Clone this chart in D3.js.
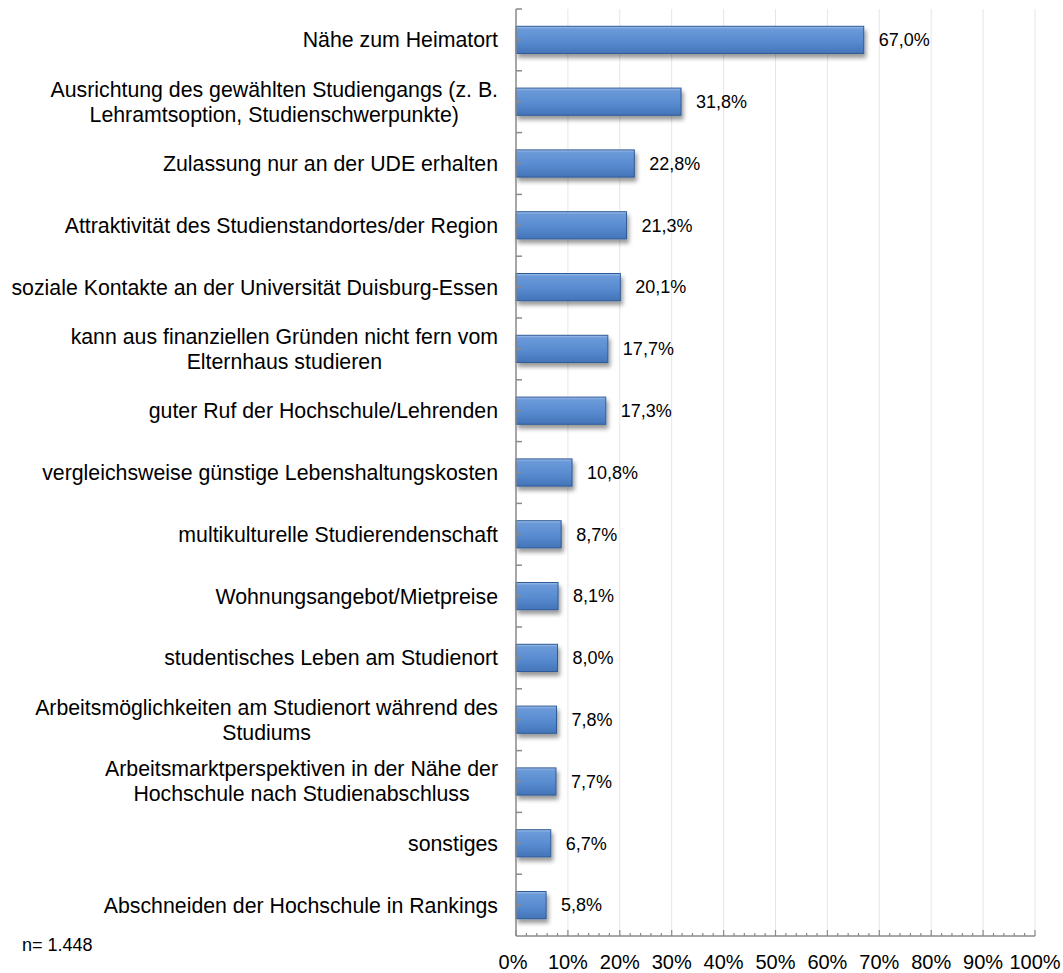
<!DOCTYPE html>
<html>
<head>
<meta charset="utf-8">
<script src="https://cdn.jsdelivr.net/npm/d3@7"></script>
<style>
  body { margin: 0; background: #fff; }
  svg text { font-family: "Liberation Sans", Arial, sans-serif; fill: #000; }
</style>
</head>
<body>
<div id="chart"></div>
<script>
/* DATA */
const categories = [
  ["Nähe zum Heimatort"],
  ["Ausrichtung des gewählten Studiengangs (z. B.", "Lehramtsoption, Studienschwerpunkte)"],
  ["Zulassung nur an der UDE erhalten"],
  ["Attraktivität des Studienstandortes/der Region"],
  ["soziale Kontakte an der Universität Duisburg-Essen"],
  ["kann aus finanziellen Gründen nicht fern vom", "Elternhaus studieren"],
  ["guter Ruf der Hochschule/Lehrenden"],
  ["vergleichsweise günstige Lebenshaltungskosten"],
  ["multikulturelle Studierendenschaft"],
  ["Wohnungsangebot/Mietpreise"],
  ["studentisches Leben am Studienort"],
  ["Arbeitsmöglichkeiten am Studienort während des", "Studiums"],
  ["Arbeitsmarktperspektiven in der Nähe der", "Hochschule nach Studienabschluss"],
  ["sonstiges"],
  ["Abschneiden der Hochschule in Rankings"]
];
const values = [67.0, 31.8, 22.8, 21.3, 20.1, 17.7, 17.3, 10.8, 8.7, 8.1, 8.0, 7.8, 7.7, 6.7, 5.8];
const xTicks = [0, 10, 20, 30, 40, 50, 60, 70, 80, 90, 100];
const note = "n= 1.448";

/* LAYOUT */
const width = 1063, height = 973;
const margin = { top: 9, left: 516, right: 28, bottom: 37 };
const fmt = v => v.toFixed(1).replace(".", ",") + "%";

const svg = d3.select("#chart").append("svg")
  .attr("width", width)
  .attr("height", height);

const defs = svg.append("defs");
const grad = defs.append("linearGradient")
  .attr("id", "barGrad")
  .attr("x1", 0).attr("y1", 0).attr("x2", 0).attr("y2", 1);
grad.append("stop").attr("offset", "0%").attr("stop-color", "#a3c1ea");
grad.append("stop").attr("offset", "10%").attr("stop-color", "#6b9ad9");
grad.append("stop").attr("offset", "55%").attr("stop-color", "#588bd0");
grad.append("stop").attr("offset", "100%").attr("stop-color", "#4474b8");

const shadow = defs.append("filter")
  .attr("id", "shadow")
  .attr("x", "-10%").attr("y", "-30%")
  .attr("width", "130%").attr("height", "180%");
shadow.append("feGaussianBlur").attr("in", "SourceAlpha").attr("stdDeviation", 2.2);
shadow.append("feOffset").attr("dx", 2).attr("dy", 4).attr("result", "off");
shadow.append("feComponentTransfer")
  .append("feFuncA").attr("type", "linear").attr("slope", 0.4);
const merge = shadow.append("feMerge");
merge.append("feMergeNode");
merge.append("feMergeNode").attr("in", "SourceGraphic");

// SCALES
const xScale = d3.scaleLinear()
  .domain([0, 100])
  .range([margin.left, width - margin.right]);

const yScale = d3.scaleBand()
  .domain(d3.range(categories.length))
  .range([margin.top, height - margin.bottom])
  .paddingInner(0.56)
  .paddingOuter(0.28);

const axisY = height - margin.bottom;

// GRIDLINES
svg.append("g")
  .selectAll("line")
  .data(xTicks.filter(d => d > 0))
  .join("line")
  .attr("x1", d => xScale(d)).attr("x2", d => xScale(d))
  .attr("y1", margin.top).attr("y2", axisY)
  .attr("stroke", "#e6e6e6")
  .attr("stroke-width", 1);

// BARS
svg.append("g")
  .selectAll("rect")
  .data(values)
  .join("rect")
  .attr("x", xScale(0))
  .attr("y", (_, i) => yScale(i))
  .attr("width", d => xScale(d) - xScale(0))
  .attr("height", yScale.bandwidth())
  .attr("fill", "url(#barGrad)")
  .attr("stroke", "#2f5b98")
  .attr("stroke-width", 1)
  .attr("filter", "url(#shadow)");

// VALUE LABELS
svg.append("g")
  .selectAll("text")
  .data(values)
  .join("text")
  .attr("x", d => xScale(d) + 15)
  .attr("y", (_, i) => yScale(i) + yScale.bandwidth() / 2)
  .attr("dy", "0.35em")
  .style("font-size", "18px")
  .text(d => fmt(d));

// Y AXIS line and ticks (boundaries + centres, pointing right)
const step = yScale.step();
const y0 = yScale(0) - yScale.paddingInner() * step / 2;
const yTickPos = d3.range(categories.length * 2).map(k => y0 + k * step / 2);
const yAx = svg.append("g");
yAx.append("line")
  .attr("x1", xScale(0)).attr("x2", xScale(0))
  .attr("y1", margin.top).attr("y2", axisY)
  .attr("stroke", "#8a8a8a").attr("stroke-width", 1.5);
yAx.selectAll("line.tick")
  .data(yTickPos)
  .join("line")
  .attr("class", "tick")
  .attr("x1", xScale(0)).attr("x2", xScale(0) + 6)
  .attr("y1", d => d).attr("y2", d => d)
  .attr("stroke", "#8a8a8a").attr("stroke-width", 1.5);

// X AXIS
const xAx = svg.append("g");
xAx.append("line")
  .attr("x1", xScale(0)).attr("x2", xScale(100))
  .attr("y1", axisY).attr("y2", axisY)
  .attr("stroke", "#8a8a8a").attr("stroke-width", 1.5);
xAx.selectAll("line.tick")
  .data(d3.range(0, 101, 2))
  .join("line")
  .attr("class", "tick")
  .attr("x1", d => xScale(d)).attr("x2", d => xScale(d))
  .attr("y1", axisY).attr("y2", d => axisY - (d % 10 === 0 ? 6 : 3))
  .attr("stroke", "#8a8a8a").attr("stroke-width", 1.2);
xAx.selectAll("text")
  .data(xTicks)
  .join("text")
  .attr("x", d => xScale(d) - (d === 0 ? 3 : 0))
  .attr("y", axisY + 33)
  .attr("text-anchor", "middle")
  .style("font-size", "20px")
  .text(d => d + "%");

// CATEGORY LABELS (multi-line centred within block, block right aligned)
const labelRight = 498;
const lineH = 25;
const labels = svg.append("g");
categories.forEach((lines, i) => {
  const cy = yScale(i) + yScale.bandwidth() / 2;
  const g = labels.append("g");
  const texts = g.selectAll("text")
    .data(lines)
    .join("text")
    .attr("y", (_, j) => cy + (j - (lines.length - 1) / 2) * lineH)
    .attr("dy", "0.35em")
    .style("font-size", "21.3px")
    .text(d => d);
  const maxW = d3.max(texts.nodes(), n => n.getComputedTextLength());
  texts.attr("x", labelRight - maxW / 2).attr("text-anchor", "middle");
});

// NOTE
svg.append("text")
  .attr("x", 22)
  .attr("y", 951)
  .style("font-size", "18px")
  .text(note);
</script>
</body>
</html>
